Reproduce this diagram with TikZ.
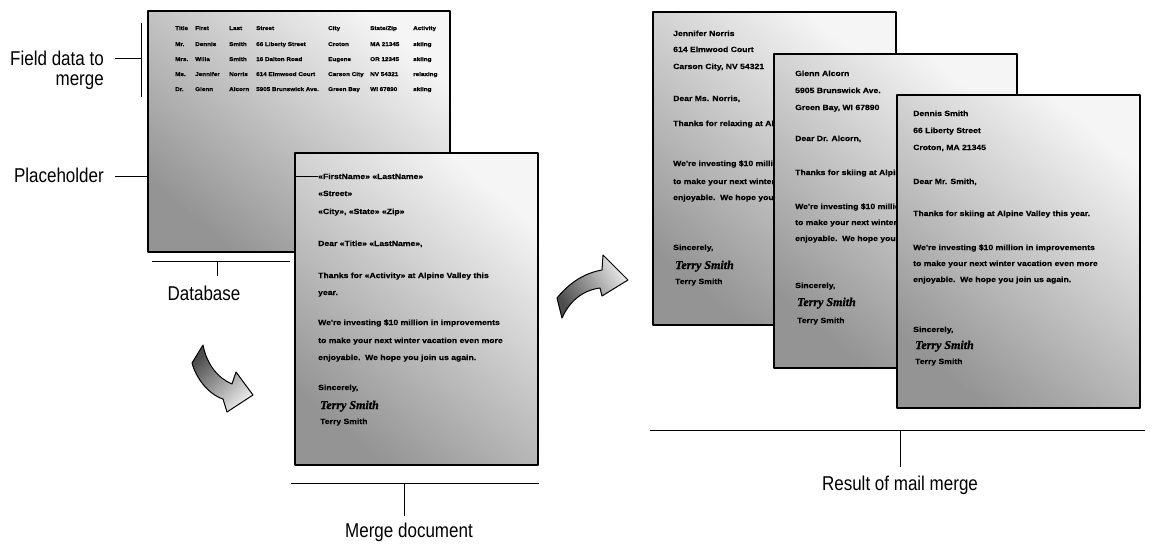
\documentclass[tikz,border=0pt]{standalone}
\usepackage{fontspec}
\setmainfont{Liberation Sans}
\newfontfamily\labelfont[FakeStretch=0.85]{Liberation Sans}
\newfontfamily\docfont[FakeStretch=1.15,FakeBold=0.6]{Liberation Sans}
\newfontfamily\sigfont[FakeBold=1.2]{Liberation Serif}
\begin{document}
\begin{tikzpicture}[x=1pt,y=-1pt]
\tikzset{
 page/.style={draw=black, line width=1.3pt, line join=round, top color=black!4, bottom color=black!42, shading angle=-40},
 doc/.style={anchor=base west, inner sep=0pt, font=\docfont\bfseries\fontsize{7.5}{8}\selectfont},
 tbl/.style={anchor=base west, inner sep=0pt, font=\docfont\bfseries\fontsize{5.5}{6}\selectfont},
 sig/.style={anchor=base west, inner sep=0pt, font=\sigfont\bfseries\itshape\fontsize{12}{12}\selectfont},
 lbl/.style={inner sep=0pt, font=\labelfont\fontsize{20}{21}\selectfont},
 lead/.style={line width=0.8pt},
 arrowshape/.style={draw=black, line width=1pt, line join=round}
}
\useasboundingbox (0,0) rectangle (1160,544);

% ---------- Database ----------
\draw[page] (148,11) rectangle (450,252);
\foreach \y/\a/\b/\c/\d/\e/\f/\g in {
  30/Title/First/Last/Street/City/State\slash Zip/Activity,
  46/Mr./Dennis/Smith/66 Liberty Street/Croton/MA 21345/skiing,
  61/Mrs./Willa/Smith/16 Dalton Road/Eugene/OR 12345/skiing,
  76/Ms./Jennifer/Norris/614 Elmwood Court/Carson City/NV 54321/relaxing,
  91/Dr./Glenn/Alcorn/5905 Brunswick Ave./Green Bay/WI 67890/skiing}{
  \node[tbl] at (175,\y) {\a};
  \node[tbl] at (195,\y) {\b};
  \node[tbl] at (229,\y) {\c};
  \node[tbl] at (256,\y) {\d};
  \node[tbl] at (328,\y) {\e};
  \node[tbl] at (370,\y) {\f};
  \node[tbl] at (413,\y) {\g};
}

% ---------- Merge document ----------
\draw[page] (295,153) rectangle (538,465);
\node[doc] (ph) at (318,179) {«FirstName» «LastName»};
\node[doc] at (318,196) {«Street»};
\node[doc] at (318,214) {«City», «State» «Zip»};
\node[doc] at (318,246) {Dear «Title» «LastName»,};
\node[doc] at (318,278) {Thanks for «Activity» at Alpine Valley this};
\node[doc] at (318,295) {year.};
\node[doc] at (318,325) {We're investing \$10 million in improvements};
\node[doc] at (318,343) {to make your next winter vacation even more};
\node[doc] at (318,360) {enjoyable.\ \ We hope you join us again.};
\node[doc] at (318,390) {Sincerely,};
\node[sig] at (320,409) {Terry Smith};
\node[doc] at (320,424) {Terry Smith};

% ---------- Letters ----------
\draw[page] (653,12) rectangle (896,325);
\node[doc] at (673,36) {Jennifer Norris};
\node[doc] at (673,52) {614 Elmwood Court};
\node[doc] at (673,69) {Carson City, NV 54321};
\node[doc] at (673,101) {Dear Ms. Norris,};
\node[doc] at (673,126) {Thanks for relaxing at Alpine Valley this year.};
\node[doc] at (673,166) {We're investing \$10 million in improvements};
\node[doc] at (673,184) {to make your next winter vacation even more};
\node[doc] at (673,200) {enjoyable.\ \ We hope you join us again.};
\node[doc] at (673,250) {Sincerely,};
\node[sig] at (675,269) {Terry Smith};
\node[doc] at (675,284) {Terry Smith};

\draw[page] (774,54) rectangle (1017,368);
\node[doc] at (795,76) {Glenn Alcorn};
\node[doc] at (795,93) {5905 Brunswick Ave.};
\node[doc] at (795,110) {Green Bay, WI 67890};
\node[doc] at (795,141) {Dear Dr. Alcorn,};
\node[doc] at (795,175) {Thanks for skiing at Alpine Valley this year.};
\node[doc] at (795,209) {We're investing \$10 million in improvements};
\node[doc] at (795,225) {to make your next winter vacation even more};
\node[doc] at (795,241) {enjoyable.\ \ We hope you join us again.};
\node[doc] at (795,288) {Sincerely,};
\node[sig] at (797,306) {Terry Smith};
\node[doc] at (797,323) {Terry Smith};

\draw[page] (897,95) rectangle (1140,408);
\node[doc] at (913,116) {Dennis Smith};
\node[doc] at (913,133) {66 Liberty Street};
\node[doc] at (913,150) {Croton, MA 21345};
\node[doc] at (913,184) {Dear Mr. Smith,};
\node[doc] at (913,216) {Thanks for skiing at Alpine Valley this year.};
\node[doc] at (913,250) {We're investing \$10 million in improvements};
\node[doc] at (913,266) {to make your next winter vacation even more};
\node[doc] at (913,282) {enjoyable.\ \ We hope you join us again.};
\node[doc] at (913,332) {Sincerely,};
\node[sig] at (915,349) {Terry Smith};
\node[doc] at (915,364) {Terry Smith};

% ---------- Arrows ----------
\draw[arrowshape, top color=black!70, bottom color=black!8, shading angle=45]
  (203,345) .. controls (207,365) and (218,378) .. (232,384)
  -- (236,372) -- (253,395) -- (227,412) -- (223,399)
  .. controls (208,394) and (196,378) .. (192,363) -- cycle;
\draw[arrowshape, top color=black!8, bottom color=black!70, shading angle=-60]
  (557,298) .. controls (570,282) and (585,273) .. (602,270)
  -- (603,255) -- (628,280) -- (602,296) -- (600,288)
  .. controls (584,290) and (570,300) .. (562,318) -- cycle;

% ---------- Labels and leaders ----------
\node[lbl, anchor=base east] (fd1) at (104,65) {Field data to};
\node[lbl, anchor=base east] (fd2) at (104,85) {merge};
\coordinate (fdT) at (141,23);
\coordinate (fdB) at (141,97);
\coordinate (fdM) at (141,58);
\draw[lead] (fdT) -- (fdB);
\draw[lead] (115,58) -- (fdM);

\node[lbl, anchor=base east] (plc) at (104,182) {Placeholder};
\draw[lead] (115,176) -- (148,176);
\draw[lead] (295,176) -- (ph.west |- 0,176);

\coordinate (dbL) at (152,261);
\coordinate (dbR) at (290,261);
\coordinate (dbM) at (217,261);
\draw[lead] (dbL) -- (dbR);
\node[lbl, anchor=base] (dbl) at (204,300) {Database};
\draw[lead] (dbM) -- (217,276);

\coordinate (mdL) at (291,483);
\coordinate (mdR) at (539,483);
\coordinate (mdM) at (404,483);
\draw[lead] (mdL) -- (mdR);
\draw[lead] (mdM) -- (404,516);
\node[lbl, anchor=base] (mdl) at (409,537) {Merge document};

\coordinate (rsL) at (650,430);
\coordinate (rsR) at (1145,430);
\coordinate (rsM) at (900,430);
\draw[lead] (rsL) -- (rsR);
\draw[lead] (rsM) -- (900,467);
\node[lbl, anchor=base] (rsl) at (900,490) {Result of mail merge};
\end{tikzpicture}
\end{document}
